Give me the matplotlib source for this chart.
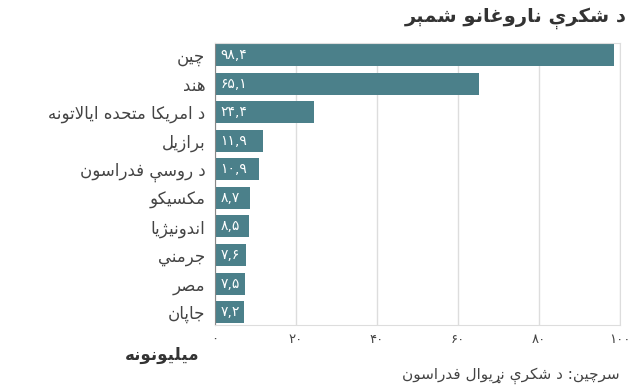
import matplotlib
matplotlib.use('Agg')
import matplotlib.pyplot as plt
from matplotlib import font_manager
from matplotlib.ft2font import FT2Font

countries = ['چین', 'هند', 'د امریکا متحده ایالاتونه', 'برازیل', 'د روسې فدراسون',
             'مکسیکو', 'اندونیژیا', 'جرمني', 'مصر', 'جاپان']
values = [98.4, 65.1, 24.4, 11.9, 10.9, 8.7, 8.5, 7.6, 7.5, 7.2]
ticks = [0, 20, 40, 60, 80, 100]
title = 'د شکرې ناروغانو شمېر'
xlabel = 'میلیونونه'
source = 'سرچین: د شکرې نړیوال فدراسون'

# matplotlib does no arabic shaping or bidi, so pick the presentation forms by hand
# (isolated, final, initial, medial) and reverse the string
FORMS = {
    'ا': (0xFE8D, 0xFE8E), 'د': (0xFEA9, 0xFEAA), 'ر': (0xFEAD, 0xFEAE),
    'ز': (0xFEAF, 0xFEB0), 'و': (0xFEED, 0xFEEE), 'ژ': (0xFB8A, 0xFB8B),
    'ړ': (0x0693, 0x0693),
    'ب': (0xFE8F, 0xFE90, 0xFE91, 0xFE92), 'ت': (0xFE95, 0xFE96, 0xFE97, 0xFE98),
    'ج': (0xFE9D, 0xFE9E, 0xFE9F, 0xFEA0), 'ح': (0xFEA1, 0xFEA2, 0xFEA3, 0xFEA4),
    'س': (0xFEB1, 0xFEB2, 0xFEB3, 0xFEB4), 'ش': (0xFEB5, 0xFEB6, 0xFEB7, 0xFEB8),
    'ص': (0xFEB9, 0xFEBA, 0xFEBB, 0xFEBC), 'غ': (0xFECD, 0xFECE, 0xFECF, 0xFED0),
    'ف': (0xFED1, 0xFED2, 0xFED3, 0xFED4), 'ك': (0xFED9, 0xFEDA, 0xFEDB, 0xFEDC),
    'ل': (0xFEDD, 0xFEDE, 0xFEDF, 0xFEE0), 'م': (0xFEE1, 0xFEE2, 0xFEE3, 0xFEE4),
    'ن': (0xFEE5, 0xFEE6, 0xFEE7, 0xFEE8), 'ه': (0xFEE9, 0xFEEA, 0xFEEB, 0xFEEC),
    'ي': (0xFEF1, 0xFEF2, 0xFEF3, 0xFEF4), 'پ': (0xFB56, 0xFB57, 0xFB58, 0xFB59),
    'چ': (0xFB7A, 0xFB7B, 0xFB7C, 0xFB7D), 'ک': (0xFB8E, 0xFB8F, 0xFB90, 0xFB91),
    'ی': (0xFBFC, 0xFBFD, 0xFBFE, 0xFBFF), 'ې': (0xFBE4, 0xFBE5, 0xFBE6, 0xFBE7),
}
FALLBACK = {'ک': 'ك', 'ی': 'ي', 'ې': 'ي', 'ژ': 'ز', 'پ': 'ب', 'چ': 'ج'}

ft = FT2Font(font_manager.findfont('DejaVu Sans'))
def has(cp):
    return ft.get_char_index(cp) != 0

def form(c, k):
    cp = FORMS[c][k]
    if has(cp):
        return chr(cp)
    alt = FALLBACK.get(c)
    if alt and has(FORMS[alt][k]):
        return chr(FORMS[alt][k])
    return c

def dual(c):
    return c in FORMS and len(FORMS[c]) == 4

def shape(w):
    out = []
    i = 0
    while i < len(w):
        c = w[i]
        if c not in FORMS:
            out.append(c)
            i += 1
            continue
        prev = dual(w[i - 1]) if i > 0 else False
        if c == 'ل' and i + 1 < len(w) and w[i + 1] == 'ا':
            out.append(chr(0xFEFC if prev else 0xFEFB))
            i += 2
            continue
        nxt = dual(c) and i + 1 < len(w) and w[i + 1] in FORMS
        k = 3 if (prev and nxt) else 1 if prev else 2 if nxt else 0
        out.append(form(c, k))
        i += 1
    return out

def vis(text):
    return ''.join(reversed(shape(text)))

digits = '۰۱۲۳۴۵۶۷۸۹' if has(0x06F0) else '٠١٢٣٤٥٦٧٨٩'
to_fa = str.maketrans('0123456789', digits)

def fa_num(v, fmt='{:.1f}'):
    return fmt.format(v).replace('.', ',').translate(to_fa)

fig = plt.figure(figsize=(6.4, 3.9), dpi=100)
ax = fig.add_axes([215 / 640, 1 - 325 / 390, 405 / 640, 282 / 390])

y = list(range(len(values)))
ax.barh(y, values, height=0.77, color='#4b808a', zorder=2)
for i, v in enumerate(values):
    ax.annotate(fa_num(v), (0, i), xytext=(4, 0), textcoords='offset points',
                ha='left', va='center', color='white', fontsize=10, zorder=3)

ax.set_xlim(0, 100)
ax.set_ylim(9.45, -0.42)
ax.set_xticks(ticks)
ax.set_xticklabels([fa_num(t, '{:d}') for t in ticks], color='#444444', fontsize=9.5)
ax.set_yticks(y)
ax.set_yticklabels([vis(c) for c in countries], color='#444444', fontsize=12)
ax.tick_params(length=0)
ax.tick_params(axis='y', pad=7)
ax.tick_params(axis='x', pad=6)
ax.xaxis.grid(True, color='#dddddd', linewidth=1)
ax.set_axisbelow(True)
for s in ['top', 'right', 'bottom']:
    ax.spines[s].set_color('#dddddd')
ax.spines['left'].set_color('#888888')

fig.text(627 / 640, 1 - 18 / 390, vis(title), ha='right', va='center',
         fontsize=14, fontweight='bold', color='#333333')
fig.text(200 / 640, 1 - 355 / 390, vis(xlabel), ha='right', va='center',
         fontsize=12, fontweight='bold', color='#333333')
fig.text(620 / 640, 1 - 376 / 390, vis(source), ha='right', va='center',
         fontsize=11, color='#444444')

fig.savefig('out.png', dpi=100)
